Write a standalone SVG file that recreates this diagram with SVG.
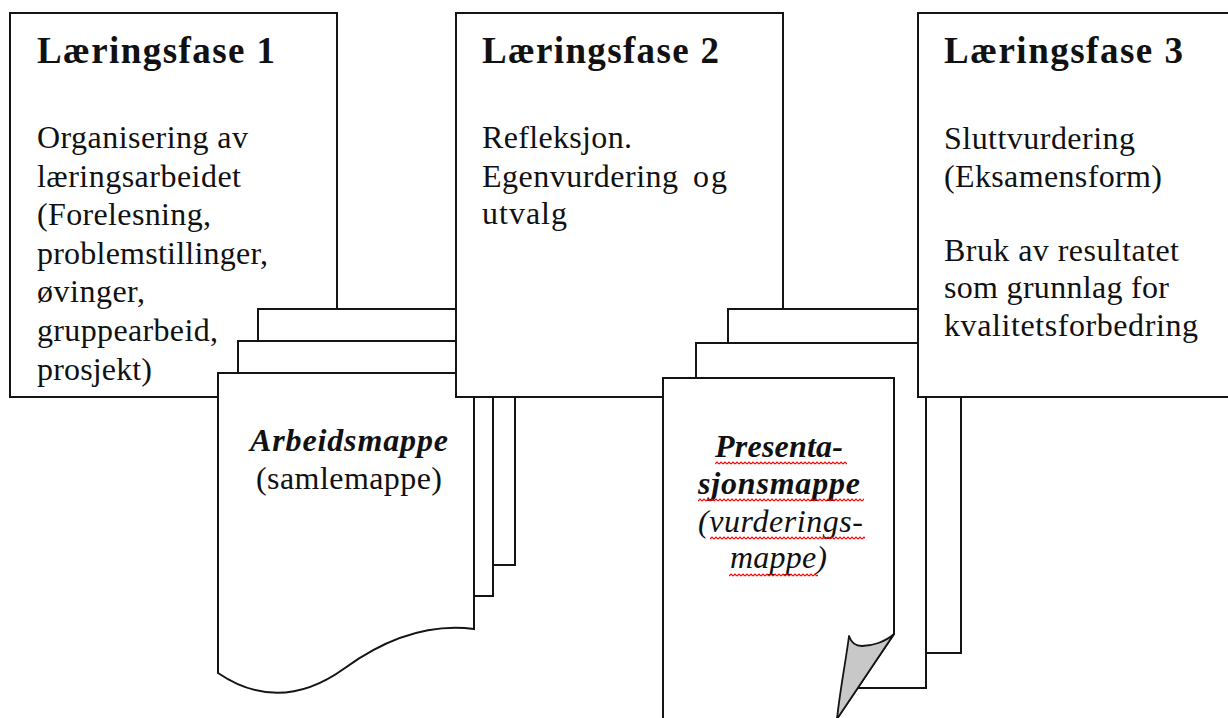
<svg xmlns="http://www.w3.org/2000/svg" width="1228" height="718" viewBox="0 0 1228 718">
<style>
.box{fill:#fff;stroke:#141414;stroke-width:2}
.pg{fill:#fff;stroke:#141414;stroke-width:2}
.t{font-family:"Liberation Serif","Times New Roman",serif;fill:#111}
.h{font-size:37px;font-weight:bold}
.b{font-size:32px}
.bi{font-size:32px;font-weight:bold;font-style:italic}
.it{font-size:32px;font-style:italic}
</style>
<defs>
<pattern id="wavy" width="4" height="4" patternUnits="userSpaceOnUse">
<path d="M0,3 L2,1 L4,3" fill="none" stroke="#ff0000" stroke-width="1.2"/>
</pattern>
</defs>
<rect width="1228" height="718" fill="#fff"/>

<g id="fase1">
<rect class="box" x="10" y="13" width="327" height="384"/>
<text class="t h" x="37" y="63" textLength="238" lengthAdjust="spacing">Læringsfase 1</text>
<text class="t b" x="37" y="148" textLength="211" lengthAdjust="spacing">Organisering av</text>
<text class="t b" x="37" y="187" textLength="204" lengthAdjust="spacing">læringsarbeidet</text>
<text class="t b" x="37" y="225" textLength="174" lengthAdjust="spacing">(Forelesning,</text>
<text class="t b" x="37" y="264" textLength="231" lengthAdjust="spacing">problemstillinger,</text>
<text class="t b" x="37" y="302" textLength="108" lengthAdjust="spacing">øvinger,</text>
<text class="t b" x="37" y="341" textLength="181" lengthAdjust="spacing">gruppearbeid,</text>
<text class="t b" x="37" y="380" textLength="115" lengthAdjust="spacing">prosjekt)</text>
</g>

<g id="arbeidsmappe">
<rect class="pg" x="258" y="309" width="257" height="256"/>
<rect class="pg" x="238" y="341" width="255" height="255"/>
<path class="pg" d="M218,373 H474 V629 Q410,621 345,668 Q280,715 218,673 Z"/>
<text class="t bi" x="250" y="451" textLength="198" lengthAdjust="spacing">Arbeidsmappe</text>
<text class="t b" x="256" y="489" textLength="186" lengthAdjust="spacing">(samlemappe)</text>
</g>

<g id="fase2">
<rect class="box" x="456" y="13" width="327" height="384"/>
<text class="t h" x="482" y="63" textLength="237" lengthAdjust="spacing">Læringsfase 2</text>
<text class="t b" x="482" y="148" textLength="150" lengthAdjust="spacing">Refleksjon.</text>
<text class="t b" x="482" y="187" textLength="196" lengthAdjust="spacing">Egenvurdering</text>
<text class="t b" x="693" y="187" textLength="34" lengthAdjust="spacing">og</text>
<text class="t b" x="482" y="224" textLength="85" lengthAdjust="spacing">utvalg</text>
</g>

<g id="presentasjonsmappe">
<rect class="pg" x="728" y="309" width="233" height="344"/>
<rect class="pg" x="696" y="343" width="230" height="345"/>
<path class="pg" d="M663,378 H894 V634 L836,720 H663 Z"/>
<path d="M849,636 C851,642 855,646 862,646 C872,646 885,642 894,634 L837,719 C840,690 846,660 849,636 Z" fill="#c8c8c8" stroke="#141414" stroke-width="1.8" stroke-linejoin="round"/>
<text class="t bi" x="715" y="457" textLength="128" lengthAdjust="spacing">Presenta-</text>
<text class="t bi" x="698" y="494" textLength="162" lengthAdjust="spacing">sjonsmappe</text>
<text class="t it" x="698" y="532" textLength="165" lengthAdjust="spacing">(vurderings-</text>
<text class="t it" x="730" y="568" textLength="97" lengthAdjust="spacing">mappe)</text>
<g transform="translate(715,461)"><rect width="132" height="4" fill="url(#wavy)"/></g>
<g transform="translate(698,498)"><rect width="166" height="4" fill="url(#wavy)"/></g>
<g transform="translate(710,536)"><rect width="155" height="4" fill="url(#wavy)"/></g>
<g transform="translate(729,573)"><rect width="89" height="4" fill="url(#wavy)"/></g>
</g>

<g id="fase3">
<rect class="box" x="918" y="13" width="330" height="384"/>
<text class="t h" x="944" y="63" textLength="239" lengthAdjust="spacing">Læringsfase 3</text>
<text class="t b" x="944" y="149" textLength="191" lengthAdjust="spacing">Sluttvurdering</text>
<text class="t b" x="944" y="187" textLength="218" lengthAdjust="spacing">(Eksamensform)</text>
<text class="t b" x="944" y="261" textLength="235" lengthAdjust="spacing">Bruk av resultatet</text>
<text class="t b" x="944" y="298" textLength="225" lengthAdjust="spacing">som grunnlag for</text>
<text class="t b" x="944" y="336" textLength="254" lengthAdjust="spacing">kvalitetsforbedring</text>
</g>

<g id="connectors"></g>
</svg>
